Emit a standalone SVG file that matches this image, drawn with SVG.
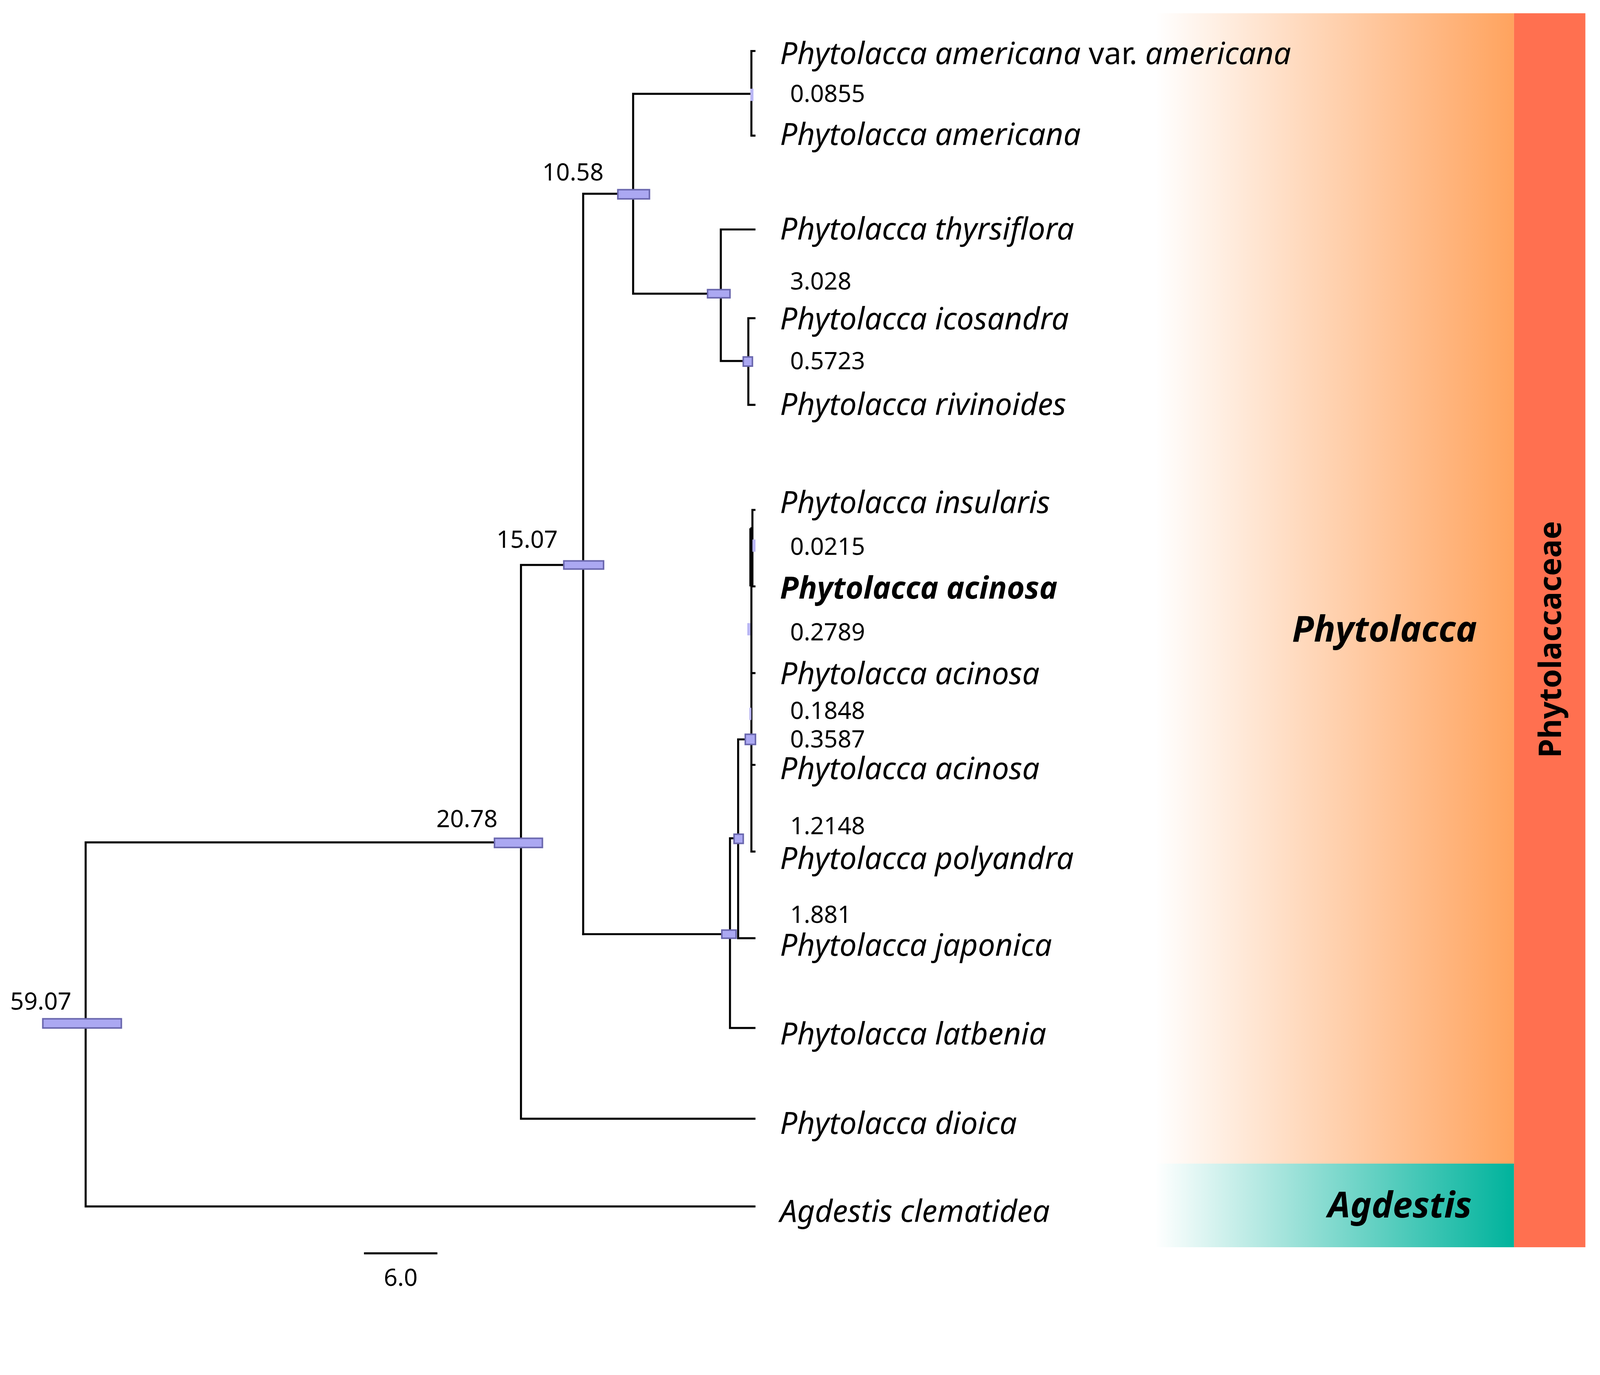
<svg xmlns="http://www.w3.org/2000/svg" width="4353" height="3519" viewBox="0 0 4353 3519">
<style>
.b{fill:none;stroke:#000;stroke-width:2;stroke-linecap:square}
.h{fill:#ABA8F2;stroke:#6A67AE;stroke-width:1.5}
.f{fill:#B9B6F5;stroke:none}
.t{font-family:"Noto Sans","DejaVu Sans",sans-serif;font-style:italic;font-size:30px;fill:#000}
.n{font-family:"Noto Sans","DejaVu Sans",sans-serif;font-size:23.5px;fill:#000}
.g{font-family:"Noto Sans","DejaVu Sans",sans-serif;font-weight:bold;fill:#000}
</style>
<defs>
<linearGradient id="go" x1="0" x2="1" y1="0" y2="0"><stop offset="0" stop-color="#fff"/><stop offset="1" stop-color="#FFA35E"/></linearGradient>
<linearGradient id="gt" x1="0" x2="1" y1="0" y2="0"><stop offset="0" stop-color="#fff"/><stop offset="1" stop-color="#00B39C"/></linearGradient>
</defs>
<rect width="4353" height="3519" fill="#fff"/>
<g transform="scale(2.61)">
<g id="bands">
<rect x="1133" y="13" width="352" height="1128" fill="url(#go)"/>
<rect x="1133" y="1141" width="352" height="82" fill="url(#gt)"/>
<rect x="1485" y="13" width="70" height="1210" fill="#FF7050"/>
<text class="g" x="1358" y="629" font-size="35" font-style="italic" text-anchor="middle">Phytolacca</text>
<text class="g" x="1373" y="1194" font-size="35" font-style="italic" text-anchor="middle">Agdestis</text>
<text class="g" font-size="30" text-anchor="middle" transform="translate(1531,627) rotate(-90)">Phytolaccaceae</text>
</g>
<g id="connectors">
<path class="b" d="M740,50H737V133H740 M737,92H621 M621,92V288 M621,288H707 M707,225V354 M707,225H740 M707,354H734 M734,312V397 M734,312H740 M734,397H740 M621,190H572 M572,190V916 M572,554H511 M511,554V1097 M511,1097H740 M511,826H84 M84,826V1183 M84,1183H740"/>
<path class="b" d="M572,916H716 M716,822V1008 M716,1008H740 M716,822H724 M724,725V920 M724,920H740 M724,725H736 M737,518V835 M737,575H740 M737,660H740 M737,750H740 M737,835H740 M738,500V575 M738,500H740"/>
<path d="M736.5,518V575" stroke="#000" stroke-width="3"/>
<path class="b" d="M358,1229H428"/>
</g>
<g id="bars">
<rect class="h" x="42" y="999" width="77" height="9"/>
<rect class="h" x="485" y="822" width="47" height="9"/>
<rect class="h" x="553" y="550" width="39" height="8"/>
<rect class="h" x="606" y="186" width="31" height="9"/>
<rect class="h" x="694" y="284" width="22" height="8"/>
<rect class="h" x="729" y="350" width="9" height="9"/>
<rect class="h" x="708" y="912" width="14" height="8"/>
<rect class="h" x="720" y="818" width="9" height="9"/>
<rect class="h" x="731" y="720" width="10" height="10"/>
<rect class="f" x="736" y="87" width="3" height="12"/>
<rect class="f" x="738" y="529" width="3" height="12"/>
<rect class="f" x="733" y="611" width="3" height="12"/>
<rect class="f" x="735" y="694" width="2" height="12"/>
</g>
<g id="tips">
<text class="t" x="765" y="63">Phytolacca americana <tspan font-style="normal">var.</tspan> americana</text>
<text class="t" x="765" y="142">Phytolacca americana</text>
<text class="t" x="765" y="235">Phytolacca thyrsiflora</text>
<text class="t" x="765" y="323">Phytolacca icosandra</text>
<text class="t" x="765" y="407">Phytolacca rivinoides</text>
<text class="t" x="765" y="503">Phytolacca insularis</text>
<text class="t" x="765" y="587" font-weight="bold">Phytolacca acinosa</text>
<text class="t" x="765" y="671">Phytolacca acinosa</text>
<text class="t" x="765" y="764">Phytolacca acinosa</text>
<text class="t" x="765" y="852">Phytolacca polyandra</text>
<text class="t" x="765" y="937">Phytolacca japonica</text>
<text class="t" x="765" y="1024">Phytolacca latbenia</text>
<text class="t" x="765" y="1112">Phytolacca dioica</text>
<text class="t" x="765" y="1198">Agdestis clematidea</text>
</g>
<g id="labels">
<text class="n" x="775" y="100">0.0855</text>
<text class="n" x="532" y="177">10.58</text>
<text class="n" x="775" y="284">3.028</text>
<text class="n" x="775" y="362">0.5723</text>
<text class="n" x="487" y="537">15.07</text>
<text class="n" x="775" y="544">0.0215</text>
<text class="n" x="775" y="628">0.2789</text>
<text class="n" x="775" y="705">0.1848</text>
<text class="n" x="775" y="733">0.3587</text>
<text class="n" x="428" y="811">20.78</text>
<text class="n" x="775" y="818">1.2148</text>
<text class="n" x="775" y="905">1.881</text>
<text class="n" x="10" y="990">59.07</text>
<text class="n" x="393" y="1261" text-anchor="middle">6.0</text>
</g>
</g>
</svg>
